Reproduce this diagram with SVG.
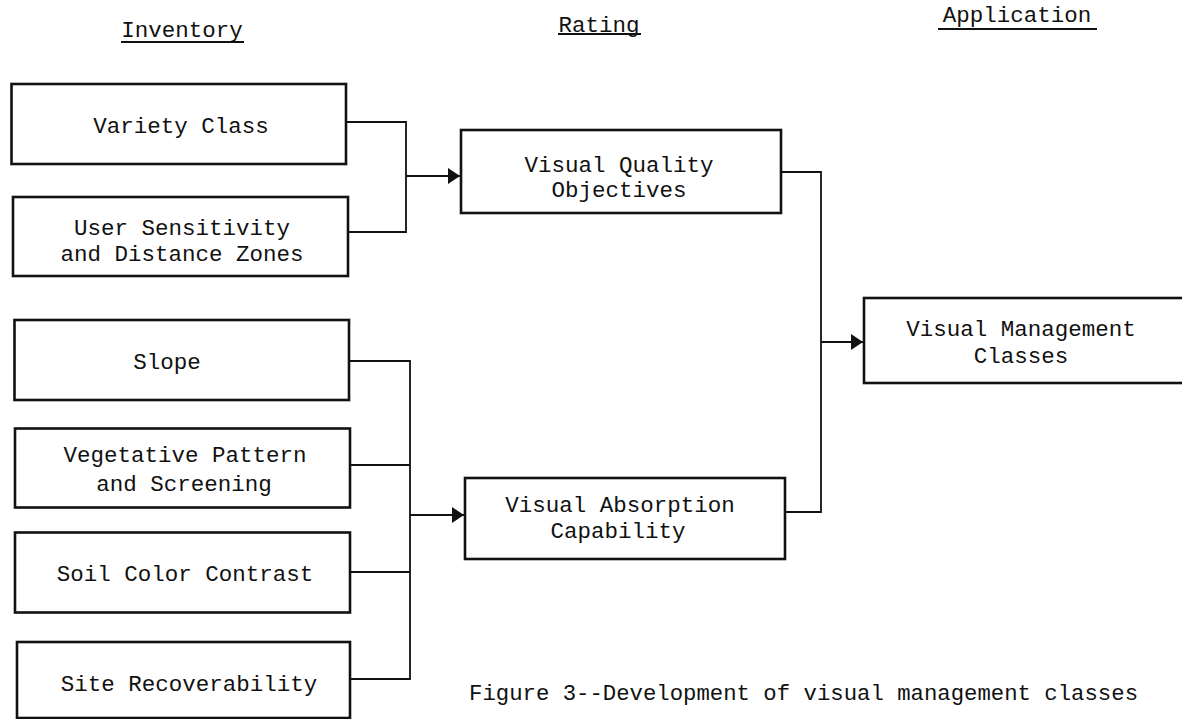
<svg xmlns="http://www.w3.org/2000/svg" width="1182" height="719" viewBox="0 0 1182 719">
  <style>
    text { font-family: "Liberation Mono", "DejaVu Sans Mono", monospace; font-size: 22.5px; fill: #111; }
    .c { text-anchor: middle; }
    .box { fill: #fff; stroke: #111; stroke-width: 2.6; }
    .ul { stroke: #111; stroke-width: 2; }
    .conn { fill: none; stroke: #111; stroke-width: 1.8; }
  </style>
  <defs>
    <marker id="arrow" markerUnits="userSpaceOnUse" viewBox="0 0 12 16" markerWidth="12" markerHeight="16" refX="12" refY="8" orient="auto">
      <path d="M0,0 L12,8 L0,16 z" fill="#111"/>
    </marker>
  </defs>
  <rect width="1182" height="719" fill="#fff"/>

  <g id="headers">
    <text class="c" x="182" y="37">Inventory</text>
    <line class="ul" x1="121" y1="42" x2="244" y2="42"/>
    <text class="c" x="599" y="32">Rating</text>
    <line class="ul" x1="558" y1="34" x2="641" y2="34"/>
    <text class="c" x="1017" y="22">Application</text>
    <line class="ul" x1="938" y1="29" x2="1097" y2="29"/>
  </g>

  <g id="connectors">
    <path class="conn" d="M346,122 H406 V232 H348"/>
    <path class="conn" d="M406,176 H460" marker-end="url(#arrow)"/>
    <path class="conn" d="M349,361 H410 V679 H350"/>
    <path class="conn" d="M350,465 H410"/>
    <path class="conn" d="M350,572 H410"/>
    <path class="conn" d="M410,515 H464" marker-end="url(#arrow)"/>
    <path class="conn" d="M781,172 H821 V512 H785"/>
    <path class="conn" d="M821,342 H863" marker-end="url(#arrow)"/>
  </g>

  <g id="variety-class">
    <rect class="box" x="11.5" y="84" width="334.5" height="80"/>
    <text class="c" x="181" y="133">Variety Class</text>
  </g>
  <g id="user-sensitivity">
    <rect class="box" x="13" y="197" width="335" height="79"/>
    <text class="c" x="182" y="235">User Sensitivity</text>
    <text class="c" x="182" y="261">and Distance Zones</text>
  </g>
  <g id="slope">
    <rect class="box" x="14.5" y="320" width="334.5" height="80"/>
    <text class="c" x="167" y="369">Slope</text>
  </g>
  <g id="vegetative-pattern">
    <rect class="box" x="15" y="428.5" width="335" height="79"/>
    <text class="c" x="185" y="462">Vegetative Pattern</text>
    <text class="c" x="184" y="491">and Screening</text>
  </g>
  <g id="soil-color">
    <rect class="box" x="15" y="532.5" width="335" height="80"/>
    <text class="c" x="185" y="581">Soil Color Contrast</text>
  </g>
  <g id="site-recoverability">
    <rect class="box" x="17" y="642" width="333" height="76"/>
    <text class="c" x="189" y="691">Site Recoverability</text>
  </g>
  <g id="visual-quality">
    <rect class="box" x="461" y="130" width="320" height="83"/>
    <text class="c" x="619" y="172">Visual Quality</text>
    <text class="c" x="619" y="197">Objectives</text>
  </g>
  <g id="visual-absorption">
    <rect class="box" x="465" y="478" width="320" height="81"/>
    <text class="c" x="620" y="512">Visual Absorption</text>
    <text class="c" x="618" y="538">Capability</text>
  </g>
  <g id="visual-management">
    <rect class="box" x="864" y="298" width="330" height="85"/>
    <text class="c" x="1021" y="336">Visual Management</text>
    <text class="c" x="1021" y="363">Classes</text>
  </g>

  <g id="caption">
    <text x="469" y="700" style="font-size:22.3px">Figure 3--Development of visual management classes</text>
  </g>
</svg>
